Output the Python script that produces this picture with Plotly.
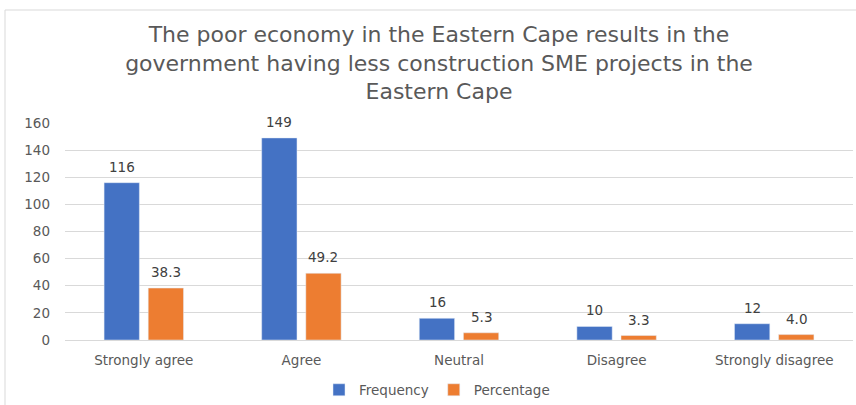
import plotly.graph_objects as go

categories = ["Strongly agree", "Agree", "Neutral", "Disagree", "Strongly disagree"]
frequency = [116, 149, 16, 10, 12]
percentage = [38.3, 49.2, 5.3, 3.3, 4.0]
freq_labels = ["116", "149", "16", "10", "12"]
pct_labels = ["38.3", "49.2", "5.3", "3.3", "4.0"]
y_ticks = [0, 20, 40, 60, 80, 100, 120, 140, 160]

BLUE = "#4472C4"
ORANGE = "#ED7D31"
GREY = "#595959"
FONT = "DejaVu Sans"

fig = go.Figure()
fig.add_trace(go.Bar(name="Frequency", x=categories, y=frequency, marker_color=BLUE))
fig.add_trace(go.Bar(name="Percentage", x=categories, y=percentage, marker_color=ORANGE))

annotations = []
for c, v, t in zip(categories, frequency, freq_labels):
    annotations.append(dict(x=c, y=v, text=t, xref="x", yref="y", showarrow=False,
                            xshift=-22, yshift=6, yanchor="bottom",
                            font=dict(family=FONT, size=13.5, color="#404040")))
for c, v, t in zip(categories, percentage, pct_labels):
    annotations.append(dict(x=c, y=v, text=t, xref="x", yref="y", showarrow=False,
                            xshift=22, yshift=6, yanchor="bottom",
                            font=dict(family=FONT, size=13.5, color="#404040")))

fig.update_layout(
    width=856, height=405,
    margin=dict(l=65, r=3, t=123, b=65, autoexpand=False),
    paper_bgcolor="white", plot_bgcolor="white",
    barmode="group", bargap=0.44, bargroupgap=0.2,
    font=dict(family=FONT, size=13.5, color=GREY),
    title=dict(
        text="The poor economy in the Eastern Cape results in the<br>government having less construction SME projects in the<br>Eastern Cape",
        x=439 / 856, xanchor="center", xref="container",
        y=1 - 42 / 405, yanchor="middle", yref="container",
        font=dict(family=FONT, size=22, color=GREY),
    ),
    legend=dict(orientation="h", x=437 / 856, xanchor="center", xref="container",
                y=1 - 390 / 405, yanchor="middle", yref="container",
                font=dict(family=FONT, size=13.5, color=GREY), itemwidth=30),
    annotations=annotations,
    showlegend=True,
)
fig.update_xaxes(showgrid=False, showline=True, linecolor="#D9D9D9", linewidth=1,
                 ticks="", ticklabelstandoff=8, tickfont=dict(size=13.5, color=GREY))
fig.update_yaxes(range=[0, 160], tickvals=y_ticks, showgrid=True, gridcolor="#D9D9D9",
                 gridwidth=1, zeroline=False, ticks="", ticklabelstandoff=14,
                 tickfont=dict(size=13.5, color=GREY))

# chart area border (left and top edges visible)
fig.add_shape(type="line", xref="paper", yref="paper", x0=-60 / 788, x1=-60 / 788,
              y0=-65 / 217, y1=1 + 113 / 217, line=dict(color="#D9D9D9", width=1))
fig.add_shape(type="line", xref="paper", yref="paper", x0=-60 / 788, x1=1 + 3 / 788,
              y0=1 + 113 / 217, y1=1 + 113 / 217, line=dict(color="#D9D9D9", width=1))

fig.write_html("out.html")
